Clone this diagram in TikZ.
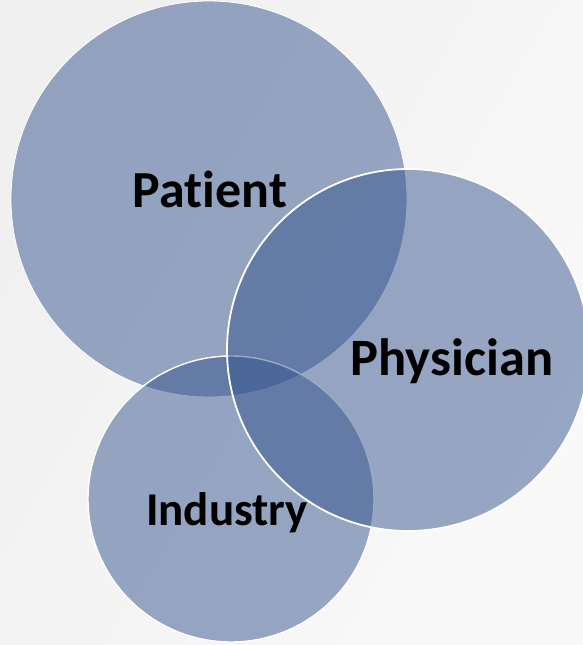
\documentclass[tikz,border=0pt]{standalone}
\usepackage{fontspec}
\setmainfont{Carlito}[Ligatures=NoCommon]
\usepackage{xcolor}
\usetikzlibrary{shapes,positioning}

\definecolor{vennblue}{RGB}{54,84,142}
\definecolor{bgleft}{RGB}{240,240,240}
\definecolor{bgright}{RGB}{249,249,249}

\begin{document}
\begin{tikzpicture}[x=1pt, y=-1pt]
    % Define styles
    \tikzstyle{group} = [circle, draw=white, line width=1.4pt, fill=vennblue, fill opacity=0.5, inner sep=0pt]
    \tikzstyle{grouplabel} = [font=\bfseries, text=black, inner sep=0pt, anchor=base]

    % Background
    \shade[left color=bgleft, right color=bgright, shading angle=60] (0,0) rectangle (583,645);
    \useasboundingbox (0,0) rectangle (583,645);

    % Patient
    \node [group, line width=0.8pt, minimum size=396pt] (patient) at (209,199) {};

    % Industry
    \node [group, minimum size=286pt] (industry) at (231,499) {};

    % Physician
    \node [group, line width=1.8pt, minimum size=362pt] (physician) at (408,350) {};

    % Labels
    \node [grouplabel, font=\bfseries\fontsize{52}{62}\selectfont] (patientlabel) at (210,207) {Patient};
    \node [grouplabel, font=\bfseries\fontsize{52.5}{62}\selectfont] (physicianlabel) at (452,375) {Physician};
    \node [grouplabel, font=\bfseries\fontsize{47}{56}\selectfont] (industrylabel) at (227,525) {Industry};
\end{tikzpicture}
\end{document}
